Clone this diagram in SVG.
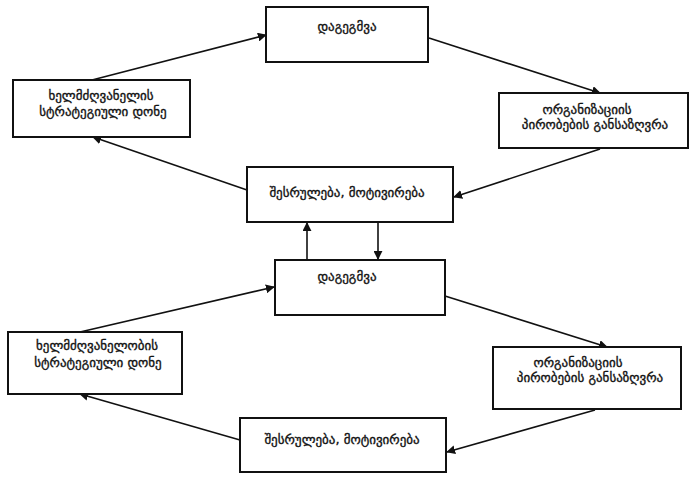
<svg xmlns="http://www.w3.org/2000/svg" width="693" height="480" viewBox="0 0 693 480">
  <style>
    .box { fill: #ffffff; stroke: #111111; stroke-width: 2; }
    .lbl { font-family: "DejaVu Sans", "Noto Sans", sans-serif; font-size: 13px; fill: #111111; stroke: #111111; stroke-width: 0.35; text-anchor: middle; }
    .edge { stroke: #111111; stroke-width: 1.6; fill: none; marker-end: url(#arrow); }
  </style>
  <defs>
    <marker id="arrow" viewBox="0 0 10 10" refX="9" refY="5" markerWidth="9" markerHeight="9" markerUnits="userSpaceOnUse" orient="auto">
      <path d="M0,0 L10,5 L0,10 Z" fill="#111111"/>
    </marker>
  </defs>
  <rect width="693" height="480" fill="#ffffff"/>

  <!-- connectors -->
  <g id="connectors">
    <line class="edge" x1="92" y1="80" x2="266" y2="35"/>
    <line class="edge" x1="429" y1="38" x2="600" y2="93"/>
    <line class="edge" x1="600" y1="149" x2="454" y2="197"/>
    <line class="edge" x1="247" y1="190" x2="93" y2="137"/>
    <line class="edge" x1="307" y1="260" x2="307" y2="223"/>
    <line class="edge" x1="378" y1="223" x2="378" y2="259"/>
    <line class="edge" x1="80" y1="332" x2="274" y2="287"/>
    <line class="edge" x1="445" y1="296" x2="607" y2="347"/>
    <line class="edge" x1="595" y1="410" x2="447" y2="452"/>
    <line class="edge" x1="240" y1="440" x2="80" y2="394"/>
  </g>

  <!-- upper cycle -->
  <g id="plan-top">
    <rect class="box" x="266" y="7" width="162" height="55"/>
    <text class="lbl" x="347" y="31">დაგეგმვა</text>
  </g>
  <g id="leader-top">
    <rect class="box" x="13" y="80" width="177" height="57"/>
    <text class="lbl" x="101" y="100">ხელმძღვანელის</text>
    <text class="lbl" x="103" y="116">სტრატეგიული დონე</text>
  </g>
  <g id="org-top">
    <rect class="box" x="499" y="93" width="189" height="55"/>
    <text class="lbl" x="587" y="114">ორგანიზაციის</text>
    <text class="lbl" x="595" y="129">პირობების განსაზღვრა</text>
  </g>
  <g id="exec-top">
    <rect class="box" x="247" y="167" width="206" height="55"/>
    <text class="lbl" x="347" y="197">შესრულება, მოტივირება</text>
  </g>

  <!-- lower cycle -->
  <g id="plan-bottom">
    <rect class="box" x="275" y="260" width="170" height="55"/>
    <text class="lbl" x="347" y="281">დაგეგმვა</text>
  </g>
  <g id="leader-bottom">
    <rect class="box" x="8" y="332" width="174" height="62"/>
    <text class="lbl" x="97" y="350">ხელმძღვანელობის</text>
    <text class="lbl" x="98" y="367">სტრატეგიული დონე</text>
  </g>
  <g id="org-bottom">
    <rect class="box" x="493" y="347" width="188" height="62"/>
    <text class="lbl" x="578" y="367">ორგანიზაციის</text>
    <text class="lbl" x="590" y="382">პირობების განსაზღვრა</text>
  </g>
  <g id="exec-bottom">
    <rect class="box" x="240" y="418" width="206" height="54"/>
    <text class="lbl" x="342" y="444">შესრულება, მოტივირება</text>
  </g>
</svg>
